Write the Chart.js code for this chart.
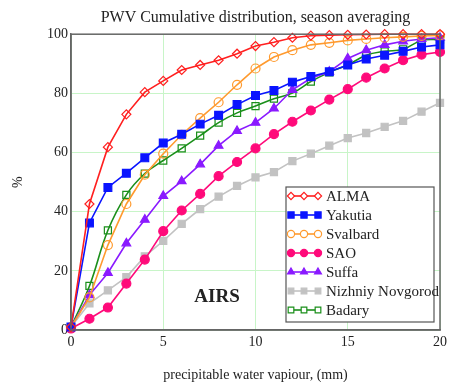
<!DOCTYPE html>
<html>
<head>
<meta charset="utf-8">
<script src="https://cdn.jsdelivr.net/npm/chart.js@4/dist/chart.umd.min.js"></script>
<style>
  html, body { margin: 0; padding: 0; background: #fff; }
  canvas { display: block; }
</style>
</head>
<body>
<canvas id="pwvChart" width="451" height="382"></canvas>
<script>
// PWV cumulative distribution, values read per 1 mm step
const xValues = [0, 1, 2, 3, 4, 5, 6, 7, 8, 9, 10, 11, 12, 13, 14, 15, 16, 17, 18, 19, 20];
const alma = [1, 42.6, 61.8, 72.9, 80.4, 84.2, 87.9, 89.6, 91.2, 93.4, 96, 97.3, 98.8, 99.5, 99.7, 99.8, 99.9, 100, 100, 100, 100];
const yakutia = [1, 36.2, 48.2, 53, 58.2, 63.2, 66.2, 69.6, 72.6, 76.2, 79.3, 81, 83.8, 85.7, 87.3, 89.6, 91.6, 92.9, 94.2, 95.7, 96.4];
const svalbard = [1, 11, 28.7, 42.6, 52.5, 59.6, 66, 71.6, 77, 82.9, 88.4, 92.3, 94.6, 96.4, 97.1, 97.9, 98.4, 98.8, 99.1, 99.4, 99.6];
const sao = [0.5, 3.8, 7.6, 15.7, 23.8, 33.4, 40.4, 46, 52, 56.8, 61.4, 66.2, 70.4, 74.2, 77.9, 81.4, 85.3, 88.4, 91.2, 93.1, 94];
const suffa = [1, 11.8, 19.3, 29.3, 37.3, 45.3, 50.3, 56, 62.3, 67.3, 70.1, 74.9, 81.2, 85.1, 87.3, 91.8, 94.6, 96.4, 97.6, 98.4, 98.8];
const nizhniy = [1, 9, 13.4, 17.9, 24.9, 30.1, 35.9, 40.9, 45.1, 48.7, 51.6, 53.4, 57.1, 59.6, 62.3, 64.9, 66.6, 68.7, 70.7, 73.8, 76.8];
const badary = [1, 14.9, 33.7, 45.7, 52.9, 57.3, 61.4, 65.7, 70.1, 73.4, 75.7, 78.2, 80.1, 84, 87.1, 89.6, 92.9, 94.2, 94.9, 97.9, 98.2];

const SERIF = "'Liberation Serif', 'Times New Roman', serif";

const series = [
    { label: 'ALMA', data: alma, color: '#ff1f1f', fill: false, style: 'rectRot', r: 4.5 },
    { label: 'Yakutia', data: yakutia, color: '#0a14ff', fill: true, style: 'rect', r: 5.5 },
    { label: 'Svalbard', data: svalbard, color: '#ff9a2e', fill: false, style: 'circle', r: 4.5 },
    { label: 'SAO', data: sao, color: '#ff0a7a', fill: true, style: 'circle', r: 4.5 },
    { label: 'Suffa', data: suffa, color: '#8a1aff', fill: true, style: 'triangle', r: 5 },
    { label: 'Nizhniy Novgorod', data: nizhniy, color: '#c2c2c2', fill: true, style: 'rect', r: 5 },
    { label: 'Badary', data: badary, color: '#1a8f1a', fill: false, style: 'rect', r: 5, tension: 0.4 }
];

const datasets = series.map(s => ({
    label: s.label,
    data: xValues.map((x, i) => ({ x, y: s.data[i] })),
    borderColor: s.color,
    backgroundColor: s.fill ? s.color : '#ffffff',
    pointBorderColor: s.color,
    pointBackgroundColor: s.fill ? s.color : 'rgba(255,255,255,0)',
    pointStyle: s.style,
    pointRadius: s.r,
    pointBorderWidth: 1.2,
    borderWidth: 1.6,
    tension: s.tension || 0,
    clip: false
}));

// frame + legend box + "AIRS" label
const extras = {
    id: 'extras',
    afterDatasetsDraw(chart) {
        const { ctx, chartArea: a } = chart;
        ctx.save();
        ctx.strokeStyle = '#666';
        ctx.lineWidth = 1.5;
        ctx.strokeRect(a.left, a.top, a.right - a.left, a.bottom - a.top);

        ctx.font = 'bold 19px ' + SERIF;
        ctx.fillStyle = '#222';
        ctx.textAlign = 'center';
        ctx.textBaseline = 'middle';
        ctx.fillText('AIRS', 217, 297);

        // legend
        const bx = 286, by = 187, bw = 148, bh = 135;
        ctx.fillStyle = '#fff';
        ctx.fillRect(bx, by, bw, bh);
        ctx.strokeStyle = '#555';
        ctx.lineWidth = 1.2;
        ctx.strokeRect(bx, by, bw, bh);
        ctx.font = '15px ' + SERIF;
        ctx.textAlign = 'left';
        series.forEach((s, i) => {
            const y = 196 + i * 19;
            ctx.strokeStyle = s.color;
            ctx.lineWidth = 1.6;
            ctx.beginPath();
            ctx.moveTo(289, y);
            ctx.lineTo(320, y);
            ctx.stroke();
            ctx.fillStyle = s.fill ? s.color : '#fff';
            ctx.lineWidth = 1.2;
            [291, 304, 318].forEach(px => {
                Chart.helpers.drawPoint(ctx, { pointStyle: s.style, radius: s.r * 0.8, borderWidth: 1.2 }, px, y);
            });
            ctx.fillStyle = '#222';
            ctx.fillText(s.label, 326, y + 1);
        });
        ctx.restore();
    }
};

new Chart(document.getElementById('pwvChart'), {
    type: 'line',
    data: { datasets },
    options: {
        responsive: false,
        animation: false,
        devicePixelRatio: 1,
        layout: { padding: { left: 0, right: 11, top: 0, bottom: 0 } },
        plugins: {
            legend: { display: false },
            tooltip: { enabled: false },
            title: {
                display: true,
                fullSize: false,
                text: 'PWV Cumulative distribution, season averaging',
                color: '#222',
                font: { family: SERIF, size: 16, weight: 'normal', lineHeight: 1.2 },
                padding: { top: 8, bottom: 7 }
            }
        },
        scales: {
            x: {
                type: 'linear',
                min: 0, max: 20,
                ticks: { stepSize: 5, color: '#222', padding: 4, font: { family: SERIF, size: 14 } },
                grid: { color: '#c8f5c8', lineWidth: 1, drawTicks: false },
                border: { color: '#666', width: 1.5 },
                title: {
                    display: true,
                    text: 'precipitable water vapiour, (mm)',
                    color: '#222',
                    font: { family: SERIF, size: 14, lineHeight: 1 },
                    padding: { top: 0, bottom: 0 }
                },
                afterFit: s => { s.height = 52; }
            },
            y: {
                min: 0, max: 100,
                ticks: { stepSize: 20, color: '#222', padding: 3, font: { family: SERIF, size: 14 } },
                grid: { color: '#c8f5c8', lineWidth: 1, drawTicks: false },
                border: { color: '#666', width: 1.5 },
                title: {
                    display: true,
                    text: '%',
                    color: '#222',
                    font: { family: SERIF, size: 14, lineHeight: 1 },
                    padding: { top: 11, bottom: 0 }
                },
                afterFit: s => { s.width = 71; }
            }
        }
    },
    plugins: [extras]
});
</script>
</body>
</html>
